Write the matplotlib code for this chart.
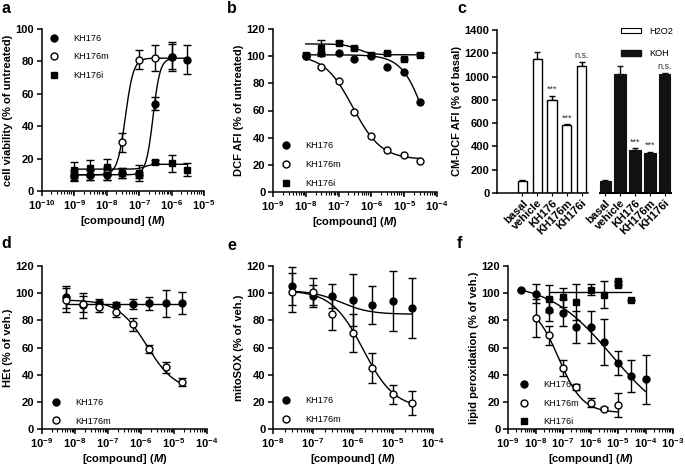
import numpy as np
import matplotlib
matplotlib.use("Agg")
import matplotlib.pyplot as plt
from matplotlib.lines import Line2D
from matplotlib.patches import Patch
from matplotlib.ticker import FixedLocator, LogLocator, FuncFormatter, NullFormatter

plt.rcParams['font.family'] = ['Liberation Sans', 'DejaVu Sans']
plt.rcParams['mathtext.fontset'] = 'custom'
plt.rcParams['mathtext.bf'] = 'Liberation Sans:bold'
plt.rcParams['mathtext.rm'] = 'Liberation Sans:bold'
plt.rcParams['mathtext.it'] = 'Liberation Sans:italic:bold'

# ---------------- data ----------------
# panel a : cell viability
x_a = [1e-9, 3e-9, 1e-8, 3e-8, 1e-7, 3e-7, 1e-6, 3e-6]
a_kh176 = [9, 10, 10, 11, 10, 54, 83, 81]
a_kh176_err = [3, 3, 3, 3, 2, 4, 9, 9]
x_a_m = [1e-9, 3e-9, 1e-8, 3e-8, 1e-7, 3e-7, 1e-6]
a_kh176m = [10, 10, 11, 30, 81, 82, 83]
a_kh176m_err = [3, 3, 4, 6, 6, 8, 8]
a_kh176i = [13, 14, 15, 11, 11, 18, 17, 13]
a_kh176i_err = [5, 5, 5, 3, 5, 1, 5, 4]
# fits: (low-conc value, high-conc value, logEC50, hill)
fit_a_kh176 = (10, 82, np.log10(2.7e-7), 4.0)
fit_a_kh176m = (10, 82, np.log10(3.8e-8), 3.5)
fit_a_kh176i = (13.5, 16.5, np.log10(1.5e-7), 4.0)

# panel b : DCF AFI
x_b = [1e-8, 3e-8, 1e-7, 3e-7, 1e-6, 3e-6, 1e-5, 3e-5]
b_kh176 = [100, 102, 102, 98, 100, 92, 88, 66]
b_kh176m = [100, 92, 82, 59, 41, 31, 27, 23]
b_kh176i = [101, 106, 110, 106, 101, 102, 98, 101]
b_kh176i_err = [1, 6, 1, 1, 1, 1, 1, 1]
fit_b_kh176 = (101, 0, np.log10(5e-5), 1.2)
fit_b_kh176m = (101, 24, np.log10(2.7e-7), 1.0)
fit_b_kh176i = (109, 101, np.log10(4e-7), 2.0)

# panel c : CM-DCF AFI bars
c_labels = ['basal', 'vehicle', 'KH176', 'KH176m', 'KH176i']
c_h2o2 = [100, 1150, 795, 580, 1090]
c_h2o2_err = [15, 60, 40, 10, 35]
c_koh = [100, 1025, 370, 345, 1025]
c_koh_err = [15, 65, 15, 10, 8]
c_sig = ['', '', '***', '***', 'n.s.']

# panel d : HEt
x_d = [5.6e-9, 1.8e-8, 5.6e-8, 1.8e-7, 5.6e-7, 1.8e-6, 5.6e-6, 1.8e-5]
d_kh176 = [97, 91, 93, 91.5, 92, 92.5, 92.5, 92.5]
d_kh176_err = [8, 9, 3, 2, 4, 5, 10, 8]
d_kh176m = [95, 92, 90, 86.5, 77, 59, 45.5, 34.5]
d_kh176m_err = [9, 6, 4, 4, 5, 3, 4, 3]
fit_d_kh176 = (92, 92, np.log10(1e-6), 1.0)
fit_d_kh176m = (95, 28, np.log10(1.5e-6), 1.0)

# panel e : mitoSOX
x_e = [3e-8, 1e-7, 3e-7, 1e-6, 3e-6, 1e-5, 3e-5]
e_kh176 = [105, 98, 98, 95, 91, 94, 89]
e_kh176_err = [14, 8, 9, 19, 14, 22, 22]
e_kh176m = [100.5, 101, 85, 70.5, 45, 25.5, 19]
e_kh176m_err = [14, 10, 12, 14, 11, 7, 9]
fit_e_kh176 = (102, 84.5, np.log10(5e-7), 1.2)
fit_e_kh176m = (102, 15, np.log10(1.8e-6), 1.1)

# panel f : lipid peroxidation
x_f = [3e-9, 1e-8, 3e-8, 1e-7, 3e-7, 1e-6, 3e-6, 1e-5, 3e-5, 1e-4]
f_kh176 = [102, 99.5, 87.5, 85.5, 75, 75, 64, 48.5, 39, 36.5]
f_kh176_err = [0, 7, 8, 10, 12, 12, 17, 9, 12, 18]
x_f_m = [1e-8, 3e-8, 1e-7, 3e-7, 1e-6, 3e-6, 1e-5]
f_kh176m = [81.5, 69, 45, 31, 19.5, 15, 17.5]
f_kh176m_err = [14, 7, 6, 2, 3, 1, 9]
x_f_i = [3e-8, 1e-7, 3e-7, 1e-6, 3e-6, 1e-5, 1e-5, 3e-5]
f_kh176i = [96, 97, 93.5, 102.5, 99, 109, 106, 95]
f_kh176i_err = [10, 7, 13, 4, 10, 0, 0, 0]
fit_f_kh176 = (108, 0, np.log10(6e-6), 0.38)
fit_f_kh176m = (92, 12, np.log10(7e-8), 1.0)
fit_f_kh176i = (101, 101, np.log10(1e-6), 1.0)

# ---------------- styling helpers ----------------
FS_TICK = 8.0
FS_LAB = 8.0
FS_LEG = 6.6
MS = 5.0
LW = 1.1

STY = {
    'KH176': dict(marker='o', mfc='black', mec='black'),
    'KH176m': dict(marker='o', mfc='white', mec='black'),
    'KH176i': dict(marker='s', mfc='black', mec='black'),
}


def curve(ax, xs, fit, z=2):
    lo, hi, logec, h = fit
    xx = np.logspace(np.log10(min(xs)), np.log10(max(xs)), 300)
    yy = lo + (hi - lo) / (1 + 10 ** ((logec - np.log10(xx)) * h))
    ax.plot(xx, yy, color='black', lw=1.0, zorder=z)


def series(ax, xs, ys, err, name, fit=None, z=3):
    if fit is not None:
        curve(ax, xs, fit, z=2)
    ax.errorbar(xs, ys, yerr=err, fmt='none', ecolor='black', elinewidth=1.0,
                capsize=2.8, capthick=1.0, zorder=z)
    ax.plot(xs, ys, ls='none', ms=MS, mew=1.0, zorder=z + 1, **STY[name])


def logfmt(v, pos):
    e = int(round(np.log10(v)))
    return r'$\mathbf{10^{%d}}$' % e


def style_log(ax, lo, hi, ylim, ystep, lpad):
    ax.set_xscale('log')
    ax.set_xlim(10.0 ** lo, 10.0 ** hi)
    ax.set_ylim(*ylim)
    ax.set_yticks(np.arange(ylim[0], ylim[1] + 0.1, ystep))
    ax.xaxis.set_major_locator(FixedLocator([10.0 ** k for k in range(lo, hi + 1)]))
    ax.xaxis.set_major_formatter(FuncFormatter(logfmt))
    ax.xaxis.set_minor_locator(LogLocator(base=10, subs=np.arange(2, 10), numticks=20))
    ax.xaxis.set_minor_formatter(NullFormatter())
    for s in ['top', 'right']:
        ax.spines[s].set_visible(False)
    for s in ['left', 'bottom']:
        ax.spines[s].set_linewidth(LW)
    ax.tick_params(which='major', length=3.5, width=LW, labelsize=FS_TICK, pad=2)
    ax.tick_params(which='minor', length=2, width=0.8)
    for t in ax.get_yticklabels():
        t.set_fontweight('bold')
    ax.set_xlabel(r'[compound] ($\mathit{M}$)', fontsize=FS_LAB, fontweight='bold', labelpad=lpad)


def legend(ax, names, anchor):
    handles = [Line2D([], [], ls='none', ms=MS, mew=1.0, **STY[n]) for n in names]
    ax.legend(handles, names, loc='upper left', bbox_to_anchor=anchor, frameon=False,
              fontsize=FS_LEG, handlelength=1.0, handletextpad=1.6, labelspacing=1.05,
              borderaxespad=0, borderpad=0)


W, H = 685, 467
fig = plt.figure(figsize=(W / 100, H / 100), dpi=100)


def axes_px(l, r, b, t):
    return fig.add_axes([l / W, 1 - b / H, (r - l) / W, (b - t) / H])


# ---- panel a
ax = axes_px(41.7, 204, 191, 29)
series(ax, x_a, a_kh176i, a_kh176i_err, 'KH176i', fit_a_kh176i)
series(ax, x_a_m, a_kh176m, a_kh176m_err, 'KH176m', fit_a_kh176m)
series(ax, x_a, a_kh176, a_kh176_err, 'KH176', fit_a_kh176)
style_log(ax, -10, -5, (0, 100), 20, 1.0)
ax.set_ylabel('cell viability (% of untreated)', fontsize=FS_LAB, fontweight='bold', labelpad=2)
legend(ax, ['KH176', 'KH176m', 'KH176i'], (0.05, 0.97))

# ---- panel b
ax = axes_px(273, 437, 192, 29)
series(ax, x_b, b_kh176m, None, 'KH176m', fit_b_kh176m)
series(ax, x_b, b_kh176, None, 'KH176', fit_b_kh176)
series(ax, x_b, b_kh176i, b_kh176i_err, 'KH176i', fit_b_kh176i)
style_log(ax, -9, -4, (0, 120), 20, 1.0)
ax.set_ylabel('DCF AFI (% of untreated)', fontsize=FS_LAB, fontweight='bold', labelpad=2)
legend(ax, ['KH176', 'KH176m', 'KH176i'], (0.05, 0.31))

# ---- panel c
ax = axes_px(497, 672, 193, 30)
pos1 = np.arange(5)
pos2 = np.arange(5) + 5.6
ax.bar(pos1, c_h2o2, width=0.62, color='white', edgecolor='black', linewidth=1.0, zorder=2)
ax.errorbar(pos1, c_h2o2, yerr=[np.zeros(5), c_h2o2_err], fmt='none', ecolor='black',
            elinewidth=1.0, capsize=2.5, capthick=1.0, zorder=1)
ax.bar(pos2, c_koh, width=0.78, color='#111111', edgecolor='#111111', linewidth=0.8, zorder=2)
ax.errorbar(pos2, c_koh, yerr=[np.zeros(5), c_koh_err], fmt='none', ecolor='#111111',
            elinewidth=1.0, capsize=2.5, capthick=1.0, zorder=1)
for p, v, e, s in zip(pos1, c_h2o2, c_h2o2_err, c_sig):
    if s:
        ax.text(p, v + e + 15, s, ha='center', va='bottom', fontsize=6.5, color='#333333')
for p, v, e, s in zip(pos2, c_koh, c_koh_err, c_sig):
    if s:
        ax.text(p, v + e + 15, s, ha='center', va='bottom', fontsize=6.5, color='#333333')
ax.set_xlim(-1.72, 10.1)
ax.set_ylim(0, 1400)
ax.set_yticks(np.arange(0, 1401, 200))
ax.set_xticks(list(pos1) + list(pos2))
ax.set_xticklabels(c_labels + c_labels, rotation=45, ha='right', rotation_mode='anchor',
                   fontsize=8.0, fontweight='bold')
for s in ['top', 'right']:
    ax.spines[s].set_visible(False)
ax.spines['left'].set_linewidth(LW)
ax.spines['bottom'].set_linewidth(LW)
ax.spines['bottom'].set_bounds(-1.72, 4.45)
ax.hlines(0, 5.15, 10.1, color='black', lw=LW * 1.35, clip_on=False, zorder=5)
ax.tick_params(axis='y', length=3.5, width=LW, labelsize=FS_TICK, pad=2)
ax.tick_params(axis='x', length=2.5, width=0.8, pad=1)
for t in ax.get_yticklabels():
    t.set_fontweight('bold')
ax.set_ylabel('CM-DCF AFI (% of basal)', fontsize=FS_LAB, fontweight='bold', labelpad=2)
hp = [Patch(facecolor='white', edgecolor='black', linewidth=0.8),
      Patch(facecolor='#111111', edgecolor='#111111')]
ax.legend(hp, ['H2O2', 'KOH'], loc='upper left', bbox_to_anchor=(0.71, 1.02), frameon=False,
          fontsize=FS_LEG, handlelength=2.2, handleheight=0.6, handletextpad=0.8,
          labelspacing=1.5, borderaxespad=0, borderpad=0)

# ---- panel d
ax = axes_px(41.7, 207, 429, 266)
series(ax, x_d, d_kh176, d_kh176_err, 'KH176', fit_d_kh176)
series(ax, x_d, d_kh176m, d_kh176m_err, 'KH176m', fit_d_kh176m)
style_log(ax, -9, -4, (0, 120), 20, 1.0)
ax.set_ylabel('HEt (% of veh.)', fontsize=FS_LAB, fontweight='bold', labelpad=2)
legend(ax, ['KH176', 'KH176m'], (0.06, 0.19))

# ---- panel e
ax = axes_px(273, 433, 429, 266)
series(ax, x_e, e_kh176, e_kh176_err, 'KH176', fit_e_kh176)
series(ax, x_e, e_kh176m, e_kh176m_err, 'KH176m', fit_e_kh176m)
style_log(ax, -8, -4, (0, 120), 20, 1.0)
ax.set_ylabel('mitoSOX (% of veh.)', fontsize=FS_LAB, fontweight='bold', labelpad=2)
legend(ax, ['KH176', 'KH176m'], (0.05, 0.20))

# ---- panel f
ax = axes_px(508, 673, 429, 266)
series(ax, x_f_i, f_kh176i, f_kh176i_err, 'KH176i', fit_f_kh176i)
series(ax, x_f, f_kh176, f_kh176_err, 'KH176', fit_f_kh176)
series(ax, x_f_m, f_kh176m, f_kh176m_err, 'KH176m', fit_f_kh176m)
style_log(ax, -9, -3, (0, 120), 20, 1.0)
ax.set_ylabel('lipid peroxidation (% of veh.)', fontsize=FS_LAB, fontweight='bold', labelpad=2)
legend(ax, ['KH176', 'KH176m', 'KH176i'], (0.07, 0.30))

# panel letters
for lab, (px, py) in zip('abcdef', [(1, 1), (227, 1), (457, 1), (1, 236), (227, 238), (457, 236)]):
    fig.text(px / W, 1 - py / H, lab, fontsize=11.5, fontweight='bold', va='top', ha='left')

fig.savefig('out.png', dpi=100)
